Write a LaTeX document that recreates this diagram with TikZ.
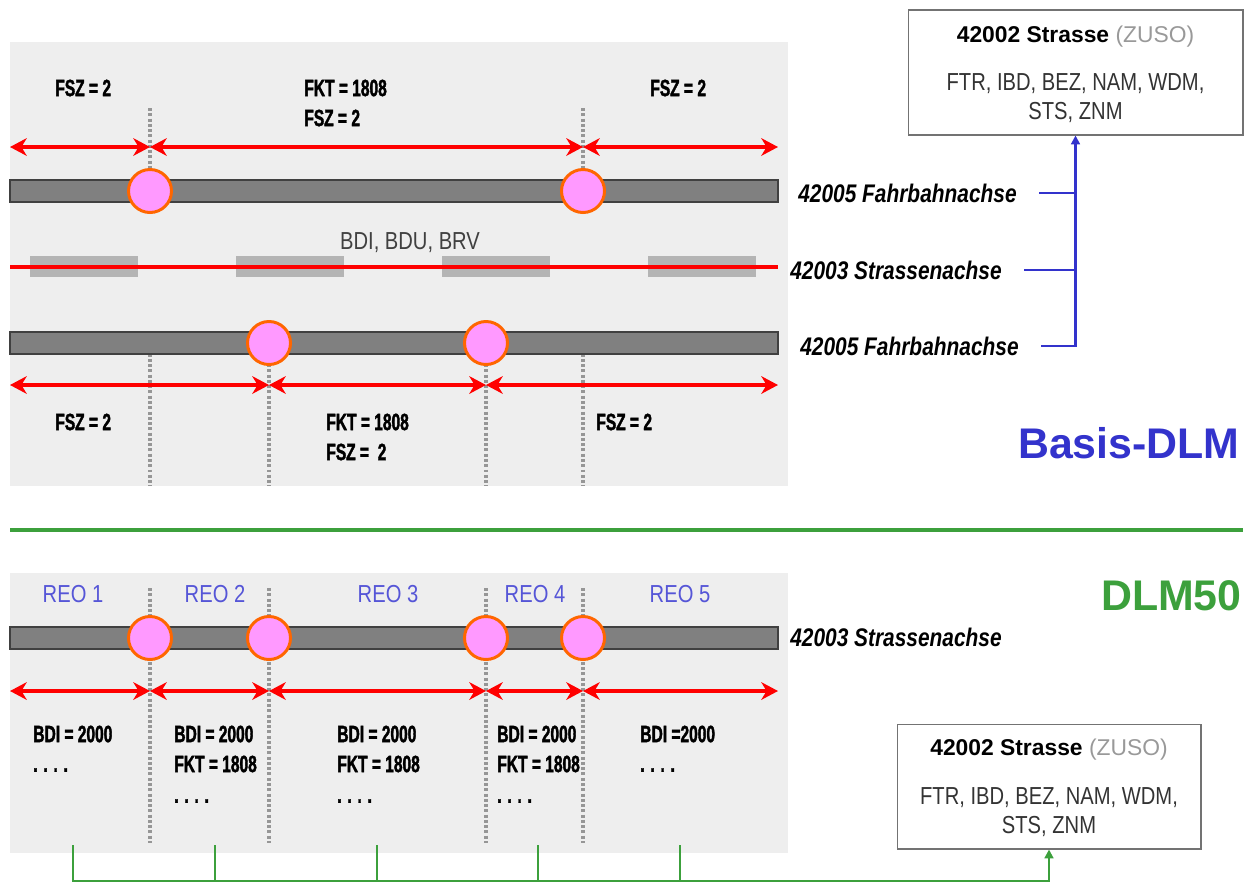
\documentclass[tikz,border=0pt]{standalone}
\usepackage{fontspec}
\setmainfont{Liberation Sans}
\newfontfamily\heavyfont[FakeStretch=0.66,FakeBold=1.6]{Liberation Sans}
\newfontfamily\condfont[FakeStretch=0.82]{Liberation Sans}
\usepackage{xcolor}
\usetikzlibrary{arrows.meta,positioning,calc}

\definecolor{panelgray}{RGB}{238,238,238}
\definecolor{bargray}{RGB}{128,128,128}
\definecolor{blockgray}{RGB}{180,180,180}
\definecolor{knotfill}{RGB}{255,153,255}
\definecolor{knotline}{RGB}{255,102,0}
\definecolor{cutgray}{RGB}{150,150,150}
\definecolor{dlmblue}{RGB}{51,51,204}
\definecolor{reoblue}{RGB}{85,85,215}
\definecolor{dlmgreen}{RGB}{60,160,60}

\tikzset{
  roadbar/.style={fill=bargray,draw=black!75,line width=0.7pt},
  knot/.style={circle,fill=knotfill,draw=knotline,line width=1.7pt,minimum size=0.86cm,inner sep=0pt},
  spanarrow/.style={red,line width=2.3pt,{Stealth[length=9.5pt,width=10pt,inset=3pt]}-{Stealth[length=9.5pt,width=10pt,inset=3pt]}},
  cutline/.style={cutgray,line width=1.8pt,dash pattern=on 1.7pt off 1.3pt},
  vallbl/.style={anchor=west,inner sep=0pt,font=\heavyfont\bfseries\fontsize{13.4}{16}\selectfont},
  axislbl/.style={anchor=west,inner sep=0pt,font=\condfont\bfseries\itshape\fontsize{14.5}{17}\selectfont},
  reolbl/.style={inner sep=0pt,text=reoblue,font=\condfont\fontsize{14}{17}\selectfont},
  zusobox/.style={draw=black!55,line width=0.6pt,minimum height=2.5cm,inner sep=0pt},
  zusotitle/.style={inner sep=0pt,font=\fontsize{13}{16}\selectfont},
  zusobody/.style={inner sep=0pt,align=center,text=black!80,font=\condfont\fontsize{14}{16.4}\selectfont},
  bluelink/.style={dlmblue,line width=1.2pt},
  greenlink/.style={dlmgreen,line width=1.2pt},
}

\begin{document}
\begin{tikzpicture}[x=0.02cm,y=-0.02cm]
  \useasboundingbox (0,0) rectangle (1250,883);

  % Basis-DLM
  \fill[panelgray] (10,42) rectangle (788,486);

  \foreach \x in {150,583} \draw[cutline] (\x,108) -- (\x,191);
  \foreach \x in {150,269,486,583} \draw[cutline] (\x,343) -- (\x,486);

  \node[vallbl] (t1) at (55,88) {FSZ = 2};
  \node[vallbl] (t2) at (304,88) {FKT = 1808};
  \node[vallbl] (t3) at (304,118) {FSZ = 2};
  \node[vallbl] (t4) at (650,88) {FSZ = 2};

  \foreach \x [count=\i] in {10,150,583,778} \coordinate (ta\i) at (\x,147);
  \foreach \i/\j in {1/2,2/3,3/4} \draw[spanarrow] (ta\i) -- (ta\j);

  \draw[roadbar] (10,180) rectangle (778,202);
  \node[knot] (k1) at (150,191) {};
  \node[knot] (k2) at (583,191) {};

  \foreach \x in {30,236,442,648} \fill[blockgray] (\x,256) rectangle ++(108,21);
  \draw[red,line width=2.8pt] (10,267) -- (778,267);
  \node[inner sep=0pt,text=black!75,font=\condfont\fontsize{14}{17}\selectfont] (bdi) at (410,243) {BDI, BDU, BRV};

  \draw[roadbar] (10,332) rectangle (778,354);
  \node[knot] (k3) at (269,343) {};
  \node[knot] (k4) at (486,343) {};

  \foreach \x [count=\i] in {10,269,486,778} \coordinate (tb\i) at (\x,385);
  \foreach \i/\j in {1/2,2/3,3/4} \draw[spanarrow] (tb\i) -- (tb\j);

  \node[vallbl] (b1) at (55,422) {FSZ = 2};
  \node[vallbl] (b2) at (326,422) {FKT = 1808};
  \node[vallbl] (b3) at (326,452) {FSZ =\ \ 2};
  \node[vallbl] (b4) at (596,422) {FSZ = 2};

  \node[axislbl] (fbA) at (798,193) {42005 Fahrbahnachse};
  \node[axislbl] (saA) at (790,270) {42003 Strassenachse};
  \node[axislbl] (fbB) at (800,346) {42005 Fahrbahnachse};

  \node[zusobox,minimum width=6.7cm] (zusoA) at (1075.5,72.5) {};
  \node[zusotitle] (zusoAtitle) at (1075.5,37) {\textbf{42002 Strasse} \textcolor{black!40}{(ZUSO)}};
  \node[zusobody] (zusoAbody) at (1075.5,98) {FTR, IBD, BEZ, NAM, WDM,\\STS, ZNM};

  \draw[bluelink,-{Triangle[length=5pt,width=5pt]}] ([xshift=0.44cm]fbB.east) -| (zusoA.south);
  \draw[bluelink] ([xshift=0.44cm]fbA.east) -- (fbA.east -| zusoA.south);
  \draw[bluelink] ([xshift=0.44cm]saA.east) -- (saA.east -| zusoA.south);

  \node[anchor=east,inner sep=0pt,text=dlmblue,font=\bfseries\fontsize{24.4}{28}\selectfont] (basis) at (1240,443) {Basis-DLM};

  \draw[dlmgreen,line width=1.8pt] (10,530) -- (1243,530);

  % DLM50
  \fill[panelgray] (10,573) rectangle (788,853);
  \node[anchor=east,inner sep=0pt,text=dlmgreen,font=\bfseries\fontsize{24.4}{28}\selectfont] (dlm) at (1242,596) {DLM50};

  \foreach \x in {150,269,486,583} \draw[cutline] (\x,588) -- (\x,843);

  \foreach \x [count=\i] in {73,215,388,535,680} \node[reolbl] (reo\i) at (\x,594) {REO \i};

  \draw[roadbar] (10,627) rectangle (778,649);
  \foreach \x [count=\i] in {150,269,486,583} \node[knot] (n\i) at (\x,638) {};
  \node[axislbl] (saB) at (790,637) {42003 Strassenachse};

  \foreach \x [count=\i] in {10,150,269,486,583,778} \coordinate (tc\i) at (\x,691);
  \foreach \i/\j in {1/2,2/3,3/4,4/5,5/6} \draw[spanarrow] (tc\i) -- (tc\j);

  \node[vallbl] (c1) at (33,734) {BDI = 2000};
  \node[vallbl] (c1d) at (33,770) {. . . .};
  \foreach \x [count=\i] in {174,337,497} {
    \node[vallbl] (m\i) at (\x,734) {BDI = 2000};
    \node[vallbl] (m\i f) at (\x,764) {FKT = 1808};
    \node[vallbl] (m\i d) at (\x,801) {. . . .};
  }
  \node[vallbl] (c5) at (640,734) {BDI =2000};
  \node[vallbl] (c5d) at (640,770) {. . . .};

  \node[zusobox,minimum width=6.08cm] (zusoB) at (1049,786.5) {};
  \node[zusotitle] (zusoBtitle) at (1049,750) {\textbf{42002 Strasse} \textcolor{black!40}{(ZUSO)}};
  \node[zusobody] (zusoBbody) at (1049,812) {FTR, IBD, BEZ, NAM, WDM,\\STS, ZNM};

  \foreach \x [count=\i] in {73,215,377,538,680} \coordinate (g\i) at (\x,845);
  \coordinate (gbase) at (73,881);
  \draw[greenlink,-{Triangle[length=5pt,width=5pt]}] (g1) -- (gbase) -| (zusoB.south);
  \foreach \i in {2,...,5} \draw[greenlink] (g\i) -- (g\i |- gbase);
\end{tikzpicture}
\end{document}
